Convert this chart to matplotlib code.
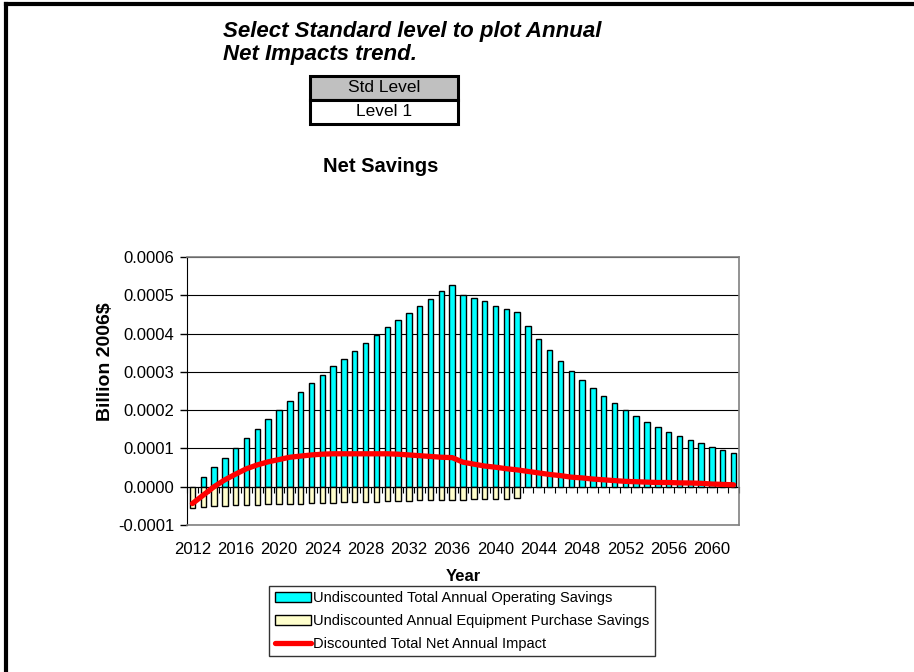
import matplotlib
matplotlib.use("Agg")
import matplotlib.pyplot as plt
from matplotlib.patches import Rectangle
from matplotlib.lines import Line2D
import numpy as np

plt.rcParams['font.family'] = ['Liberation Sans', 'DejaVu Sans']

years = list(range(2012, 2063))
operating = [0.0, 0.000026, 0.000051, 0.000075, 0.000102, 0.000127, 0.000152, 0.000177,
             0.000200, 0.000225, 0.000248, 0.000270, 0.000293, 0.000315, 0.000334, 0.000355,
             0.000376, 0.000397, 0.000417, 0.000436, 0.000455, 0.000473, 0.000490, 0.000510,
             0.000527, 0.000502, 0.000493, 0.000484, 0.000473, 0.000464, 0.000456, 0.000419,
             0.000387, 0.000357, 0.000328, 0.000302, 0.000278, 0.000258, 0.000237, 0.000218,
             0.000200, 0.000185, 0.000170, 0.000156, 0.000144, 0.000133, 0.000121, 0.000113,
             0.000104, 0.000095, 0.000089]
equipment = [-0.000055, -0.000052, -0.000051, -0.000050, -0.000049, -0.000048, -0.000047,
             -0.000046, -0.000045, -0.000045, -0.000044, -0.000043, -0.000042, -0.000042,
             -0.000041, -0.000040, -0.000040, -0.000039, -0.000038, -0.000038, -0.000037,
             -0.000036, -0.000036, -0.000035, -0.000035, -0.000034, -0.000033, -0.000033,
             -0.000032, -0.000031, -0.000030] + [0.0] * 20
net_impact = [-0.000044, -0.000022, 0.0, 0.000018, 0.000033, 0.000047, 0.000057, 0.000065,
              0.000071, 0.000077, 0.000080, 0.000083, 0.000085, 0.000086, 0.000086, 0.000086,
              0.000086, 0.000086, 0.000086, 0.000085, 0.000083, 0.000081, 0.000079, 0.000077,
              0.000076, 0.000064, 0.000059, 0.000054, 0.000051, 0.000047, 0.000044, 0.000040,
              0.000036, 0.000032, 0.000029, 0.000025, 0.000023, 0.000020, 0.000018, 0.000016,
              0.000014, 0.000013, 0.000012, 0.000011, 0.000011, 0.000010, 0.0000097, 0.0000088,
              0.000007, 0.000006, 0.000005]
yticks = [-0.0001, 0.0, 0.0001, 0.0002, 0.0003, 0.0004, 0.0005, 0.0006]

W, H = 914, 672
fig = plt.figure(figsize=(W / 100, H / 100), dpi=100)

# frame of the sheet area (only top and left edges are visible)
fig.lines.append(Line2D([6 / W, 1], [1 - 4 / H, 1 - 4 / H], transform=fig.transFigure,
                        color='black', linewidth=3))
fig.lines.append(Line2D([6 / W, 6 / W], [0, 1 - 4 / H], transform=fig.transFigure,
                        color='black', linewidth=3))

# title and the level selector
fig.text(223 / W, 1 - 21 / H, 'Select Standard level to plot Annual\nNet Impacts trend.',
         ha='left', va='top', fontsize=16, fontweight='bold', fontstyle='italic',
         linespacing=1.12)
fig.patches.append(Rectangle((310 / W, 1 - 100 / H), 148 / W, 24 / H,
                             transform=fig.transFigure, facecolor='#c0c0c0',
                             edgecolor='black', linewidth=2.2))
fig.patches.append(Rectangle((310 / W, 1 - 124 / H), 148 / W, 24 / H,
                             transform=fig.transFigure, facecolor='white',
                             edgecolor='black', linewidth=2.2))
fig.text(384 / W, 1 - 88 / H, 'Std Level', ha='center', va='center', fontsize=12.5)
fig.text(384 / W, 1 - 112 / H, 'Level 1', ha='center', va='center', fontsize=12.5)

fig.text(381 / W, 1 - 166 / H, 'Net Savings', ha='center', va='center',
         fontsize=14.5, fontweight='bold')

ax = fig.add_axes([187 / W, 1 - 525 / H, 552 / W, 268 / H])
x = np.arange(len(years))
op = np.array(operating)
eq = np.array(equipment)

ax.bar(x[op != 0], op[op != 0], width=0.5, color='#00ffff', edgecolor='black',
       linewidth=1, zorder=3, label='Undiscounted Total Annual Operating Savings')
ax.bar(x[eq != 0], eq[eq != 0], width=0.5, color='#ffffcc', edgecolor='black',
       linewidth=1, zorder=3, label='Undiscounted Annual Equipment Purchase Savings')
ax.plot(x, net_impact, color='#ff0000', linewidth=3.8, zorder=5,
        solid_capstyle='round', label='Discounted Total Net Annual Impact')

ymin, ymax = -0.0001, 0.0006
ax.set_ylim(ymin, ymax)
ax.set_xlim(-0.5, len(years) - 0.5)
ax.set_yticks(yticks)
ax.set_yticklabels([f'{v:.4f}' for v in yticks], fontsize=12)
ax.yaxis.grid(True, color='black', linewidth=0.8)
ax.set_axisbelow(True)
ax.tick_params(axis='y', direction='out', length=5, width=1, color='black', pad=4)

ax.set_xticks(x[::4])
ax.set_xticklabels([str(y) for y in years[::4]], fontsize=12)
ax.tick_params(axis='x', length=0, pad=12)

for side in ['top', 'right', 'bottom']:
    ax.spines[side].set_color('#808080')
    ax.spines[side].set_linewidth(1.2)
ax.spines['left'].set_color('black')

# category axis crossing at zero
zero_axis = ax.secondary_xaxis((0 - ymin) / (ymax - ymin))
zero_axis.set_xticks(np.arange(len(years) + 1) - 0.5)
zero_axis.set_xticklabels([])
zero_axis.tick_params(length=4, width=0.8, direction='out', color='black')
zero_axis.spines['bottom'].set_color('black')

ax.set_ylabel('Billion 2006$', fontsize=14, fontweight='bold')
ax.yaxis.set_label_coords(-0.133, 0.608)
ax.set_xlabel('Year', fontsize=12, fontweight='bold', labelpad=9)

handles, labels = ax.get_legend_handles_labels()
order = [1, 2, 0]
leg = fig.legend([handles[i] for i in order], [labels[i] for i in order],
                 loc='upper center', bbox_to_anchor=(462 / W, 1 - 586 / H),
                 fontsize=10.5, frameon=True, fancybox=False, edgecolor='black',
                 handlelength=2.5, handleheight=0.7, handletextpad=0.15,
                 labelspacing=0.62, borderpad=0.35, borderaxespad=0)
leg.get_frame().set_linewidth(1)

fig.savefig('out.png', dpi=100)
